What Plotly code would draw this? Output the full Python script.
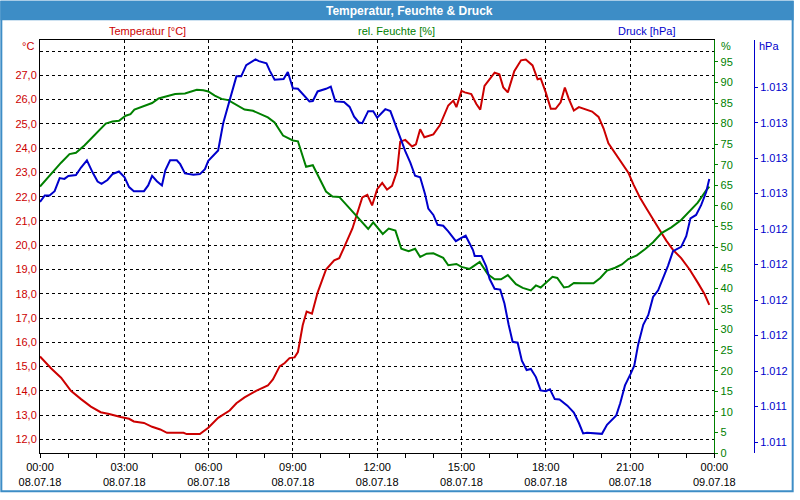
import pandas as pd
import plotly.graph_objects as go

# ---------------- data ----------------
temp_hours = [0.0, 0.40, 0.75, 1.10, 1.46, 1.81, 2.16, 2.46, 2.87, 3.17, 3.34, 3.70, 3.99, 4.28, 4.52,
              5.11, 5.22, 5.69, 5.99, 6.34, 6.75, 6.99, 7.28, 7.69, 8.11, 8.29, 8.53, 8.71, 8.88, 9.06,
              9.18, 9.35, 9.49, 9.68, 9.88, 10.18, 10.47, 10.65, 10.82, 11.12, 11.47, 11.65, 11.82, 12.0,
              12.18, 12.35, 12.53, 12.71, 12.82, 13.0, 13.24, 13.38, 13.53, 13.68, 14.0, 14.23, 14.53,
              14.71, 14.82, 15.0, 15.12, 15.35, 15.53, 15.67, 15.82, 16.18, 16.35, 16.49, 16.65, 16.88,
              17.12, 17.29, 17.53, 17.71, 17.82, 18.0, 18.18, 18.35, 18.53, 18.68, 18.82, 19.0, 19.18,
              19.41, 19.65, 19.88, 20.06, 20.23, 20.47, 20.71, 20.94, 21.12, 21.35, 21.59, 21.82, 22.06,
              22.29, 22.53, 22.82, 23.12, 23.41, 23.65, 23.82]
temperature = [15.42, 14.92, 14.54, 14.0, 13.66, 13.35, 13.12, 13.05, 12.92, 12.85, 12.74, 12.68, 12.52,
               12.41, 12.27, 12.27, 12.22, 12.22, 12.48, 12.89, 13.19, 13.49, 13.73, 14.0, 14.22, 14.47,
               15.01, 15.15, 15.35, 15.38, 15.6, 16.7, 17.27, 17.18, 18.05, 19.0, 19.38, 19.47, 19.9,
               20.69, 21.97, 22.08, 21.64, 22.31, 22.57, 22.29, 22.45, 23.06, 24.27, 24.34, 24.07, 24.16,
               24.78, 24.45, 24.57, 24.94, 25.76, 25.96, 25.69, 26.36, 26.30, 26.23, 25.82, 25.59, 26.57,
               27.11, 27.04, 26.5, 26.30, 27.17, 27.62, 27.65, 27.41, 26.84, 26.87, 26.30, 25.62, 25.62,
               25.89, 26.50, 26.03, 25.55, 25.69, 25.59, 25.51, 25.29, 24.81, 24.20, 23.80, 23.39, 22.99,
               22.51, 21.97, 21.50, 21.09, 20.62, 20.19, 19.81, 19.47, 19.0, 18.46, 17.99, 17.54]

hum_hours = [0.0, 0.40, 0.75, 1.05, 1.28, 1.58, 1.87, 2.16, 2.34, 2.58, 2.81, 3.05, 3.22, 3.36, 3.70,
             3.99, 4.22, 4.52, 4.81, 5.16, 5.34, 5.58, 5.81, 5.99, 6.22, 6.46, 6.70, 6.99, 7.28, 7.58,
             7.87, 8.11, 8.35, 8.65, 9.0, 9.18, 9.47, 9.71, 10.18, 10.41, 10.65, 11.0, 11.35, 11.68,
             11.86, 12.2, 12.41, 12.65, 12.86, 13.12, 13.35, 13.53, 13.76, 14.0, 14.35, 14.53, 14.82,
             15.0, 15.29, 15.65, 15.94, 16.18, 16.41, 16.65, 16.94, 17.18, 17.47, 17.65, 17.82, 18.06,
             18.24, 18.41, 18.65, 18.82, 19.0, 19.29, 19.70, 19.94, 20.18, 20.47, 20.71, 20.94, 21.24,
             21.53, 21.82, 22.12, 22.47, 22.82, 23.12, 23.41, 23.71, 23.82]
humidity = [64.7, 67.9, 70.5, 72.6, 72.9, 74.7, 76.7, 78.9, 80.0, 80.5, 80.7, 81.9, 82.3, 83.4, 84.3,
            85.0, 86.1, 86.6, 87.2, 87.3, 87.7, 88.2, 88.1, 87.8, 86.8, 86.0, 85.7, 84.5, 83.4, 83.1,
            82.3, 81.5, 80.3, 77.1, 75.9, 75.7, 69.5, 69.9, 63.5, 62.3, 62.2, 59.6, 56.8, 54.4,
            56.0, 53.2, 54.5, 54.0, 49.6, 49.0, 49.6, 47.6, 48.4, 48.5, 47.4, 45.6, 45.9,
            45.2, 44.7, 46.4, 43.4, 42.2, 42.2, 43.2, 41.0, 40.1, 39.5, 40.7, 40.2, 41.8,
            42.8, 42.5, 40.2, 40.4, 41.3, 41.2, 41.2, 42.5, 44.3, 45.0, 45.8, 47.1, 48.0,
            49.5, 51.2, 53.4, 54.8, 56.6, 58.8, 60.8, 63.8, 64.7]

pres_hours = [0.0, 0.17, 0.34, 0.52, 0.70, 0.87, 1.01, 1.28, 1.46, 1.67, 1.87, 2.05, 2.19, 2.40, 2.58,
              2.81, 3.01, 3.17, 3.34, 3.70, 3.85, 3.99, 4.16, 4.34, 4.46, 4.63, 4.87, 4.99, 5.16, 5.46,
              5.69, 5.87, 5.99, 6.34, 6.52, 6.75, 6.99, 7.16, 7.34, 7.67, 7.79, 8.06, 8.18, 8.35, 8.67,
              8.82, 9.0, 9.18, 9.35, 9.59, 9.71, 9.88, 10.18, 10.35, 10.51, 10.82, 11.02, 11.18, 11.35,
              11.47, 11.68, 11.86, 12.0, 12.29, 12.47, 12.65, 12.77, 12.88, 13.0, 13.18, 13.35, 13.53,
              13.70, 13.82, 14.0, 14.15, 14.35, 14.53, 14.80, 15.0, 15.15, 15.41, 15.47, 15.71, 15.88,
              16.0, 16.18, 16.38, 16.53, 16.68, 16.82, 17.0, 17.15, 17.32, 17.47, 17.65, 17.82, 18.0,
              18.15, 18.32, 18.49, 18.77, 19.0, 19.18, 19.33, 19.47, 20.0, 20.18, 20.51, 20.65, 20.82,
              21.02, 21.15, 21.29, 21.47, 21.65, 21.82, 22.0, 22.24, 22.35, 22.53, 22.82, 23.0, 23.15,
              23.35, 23.53, 23.71, 23.82]
pressure = [1012.553, 1012.59, 1012.59, 1012.614, 1012.688, 1012.683, 1012.70, 1012.705, 1012.747,
            1012.788, 1012.72, 1012.668, 1012.655, 1012.677, 1012.71, 1012.725, 1012.692, 1012.637,
            1012.613, 1012.614, 1012.646, 1012.70, 1012.67, 1012.646, 1012.732, 1012.788, 1012.788,
            1012.766, 1012.714, 1012.707, 1012.71, 1012.738, 1012.785, 1012.843, 1012.997, 1013.126,
            1013.261, 1013.261, 1013.324, 1013.357, 1013.347, 1013.335, 1013.292, 1013.242, 1013.246,
            1013.286, 1013.194, 1013.191, 1013.163, 1013.12, 1013.122, 1013.176, 1013.191, 1013.203,
            1013.12, 1013.117, 1013.089, 1013.034, 1013.001, 1012.997, 1013.065, 1013.065, 1013.028,
            1013.076, 1013.065, 1012.987, 1012.945, 1012.895, 1012.84, 1012.775, 1012.701, 1012.692,
            1012.60, 1012.516, 1012.48, 1012.424, 1012.419, 1012.387, 1012.332, 1012.35, 1012.363,
            1012.282, 1012.249, 1012.249, 1012.19, 1012.12, 1012.064, 1012.059, 1011.981, 1011.861,
            1011.765, 1011.76, 1011.658, 1011.606, 1011.612, 1011.566, 1011.491, 1011.486, 1011.497,
            1011.442, 1011.44, 1011.405, 1011.366, 1011.307, 1011.248, 1011.252, 1011.246, 1011.297,
            1011.35, 1011.418, 1011.519, 1011.584, 1011.63, 1011.75, 1011.861, 1011.916, 1012.018,
            1012.055, 1012.147, 1012.193, 1012.276, 1012.30, 1012.36, 1012.461, 1012.48, 1012.535,
            1012.609, 1012.683]

temp_ticks = [12, 13, 14, 15, 16, 17, 18, 19, 20, 21, 22, 23, 24, 25, 26, 27, 28]
temp_ticktext = ["12,0", "13,0", "14,0", "15,0", "16,0", "17,0", "18,0", "19,0", "20,0", "21,0",
                 "22,0", "23,0", "24,0", "25,0", "26,0", "27,0", ""]
hum_ticks = [0, 5, 10, 15, 20, 25, 30, 35, 40, 45, 50, 55, 60, 65, 70, 75, 80, 85, 90, 95]
pres_ticks = [1011.2, 1011.4, 1011.6, 1011.8, 1012.0, 1012.2, 1012.4, 1012.6, 1012.8, 1013.0, 1013.2]

title_text = "Temperatur, Feuchte & Druck"
series_names = ["Temperatur [°C]", "rel. Feuchte [%]", "Druck [hPa]"]
units = ["°C", "%", "hPa"]

RED = "#cc0000"
GREEN = "#008000"
BLUE = "#0000cc"
FRAME = "#3d8dc6"
FONT = "Liberation Sans"

base = pd.Timestamp("2018-07-08 00:00")
def to_time(hours):
    return [base + pd.Timedelta(hours=h) for h in hours]

# geometry helpers (pixels -> paper), plot area x 40..760 (x-domain to 720), y 40..460
def px(xp):
    return (xp - 40) / 720.0
def py(yp):
    return (460 - yp) / 420.0

fig = go.Figure()
fig.add_trace(go.Scatter(x=to_time(temp_hours), y=temperature, mode="lines",
                         line=dict(color=RED, width=2), name=series_names[0], yaxis="y"))
fig.add_trace(go.Scatter(x=to_time(hum_hours), y=humidity, mode="lines",
                         line=dict(color=GREEN, width=2), name=series_names[1], yaxis="y2"))
fig.add_trace(go.Scatter(x=to_time(pres_hours), y=pressure, mode="lines",
                         line=dict(color=BLUE, width=2), name=series_names[2], yaxis="y3"))

HOUR = 3600000
fig.update_layout(
    width=800, height=500,
    margin=dict(l=40, r=40, t=40, b=40),
    paper_bgcolor="white", plot_bgcolor="white",
    font=dict(family=FONT, size=11, color="black"),
    separators=",.",
    showlegend=False,
    xaxis=dict(
        domain=[0, 680 / 720], type="date",
        range=["2018-07-08 00:00:00", "2018-07-09 00:00:00"],
        tick0="2018-07-08 00:00:00", dtick=3 * HOUR,
        tickformat="%H:%M<br>%d.%m.%y",
        ticks="outside", ticklen=4, tickcolor="black",
        showline=True, linecolor="black", linewidth=1, mirror=True,
        showgrid=True, gridcolor="black", gridwidth=1, griddash="3px,3px",
        zeroline=False,
        tickfont=dict(size=11, color="black"),
        minor=dict(dtick=HOUR, ticks="outside", ticklen=4, tickcolor="black", showgrid=False),
    ),
    yaxis=dict(
        range=[11.44, 28.457],
        tickvals=temp_ticks, ticktext=temp_ticktext,
        showgrid=True, gridcolor="black", gridwidth=1, griddash="3px,3px",
        showline=True, linecolor="black", linewidth=1,
        ticks="", zeroline=False,
        tickfont=dict(size=11, color=RED),
    ),
    yaxis2=dict(
        overlaying="y", side="right", anchor="x",
        range=[0, 100.3], tickvals=hum_ticks,
        showgrid=False, zeroline=False,
        showline=True, linecolor=GREEN, linewidth=1,
        ticks="outside", ticklen=3, tickcolor=GREEN,
        tickfont=dict(size=11, color=GREEN),
    ),
    yaxis3=dict(
        overlaying="y", side="right", anchor="free", position=1.0,
        range=[1011.138, 1013.466], tickvals=pres_ticks, tickformat=",.0f",
        showgrid=False, zeroline=False,
        showline=True, linecolor=BLUE, linewidth=1,
        ticks="outside", ticklen=3, tickcolor=BLUE,
        tickfont=dict(size=11, color=BLUE),
    ),
)

# window frame and title bar
fig.add_shape(type="rect", xref="paper", yref="paper",
              x0=px(0), x1=px(800), y0=py(20), y1=py(0),
              fillcolor=FRAME, line=dict(width=0), layer="below")
fig.add_shape(type="rect", xref="paper", yref="paper",
              x0=px(1), x1=px(799), y0=py(499), y1=py(1),
              fillcolor="rgba(0,0,0,0)", line=dict(color=FRAME, width=2), layer="above")

fig.add_annotation(text="<b>" + title_text + "</b>", xref="paper", yref="paper",
                   x=px(413), y=py(10), xanchor="center", yanchor="middle", showarrow=False,
                   font=dict(family=FONT, size=12, color="white"))

# series captions
for name, col, cx in zip(series_names, [RED, GREEN, BLUE], [148, 399, 652]):
    fig.add_annotation(text=name, xref="paper", yref="paper", x=px(cx), y=py(31),
                       xanchor="center", yanchor="middle",
                       showarrow=False, font=dict(size=11, color=col))

# unit labels
fig.add_annotation(text=units[0], xref="paper", yref="paper", x=px(36), y=py(46),
                   xanchor="right", yanchor="middle", showarrow=False, font=dict(size=11, color=RED))
fig.add_annotation(text=units[1], xref="paper", yref="paper", x=px(725), y=py(46),
                   xanchor="left", yanchor="middle", showarrow=False, font=dict(size=11, color=GREEN))
fig.add_annotation(text=units[2], xref="paper", yref="paper", x=px(763), y=py(46),
                   xanchor="left", yanchor="middle", showarrow=False, font=dict(size=11, color=BLUE))

fig.write_html("out.html",
               config={"displayModeBar": False},
               post_script="document.body.style.margin='0';document.body.style.overflow='hidden';")
